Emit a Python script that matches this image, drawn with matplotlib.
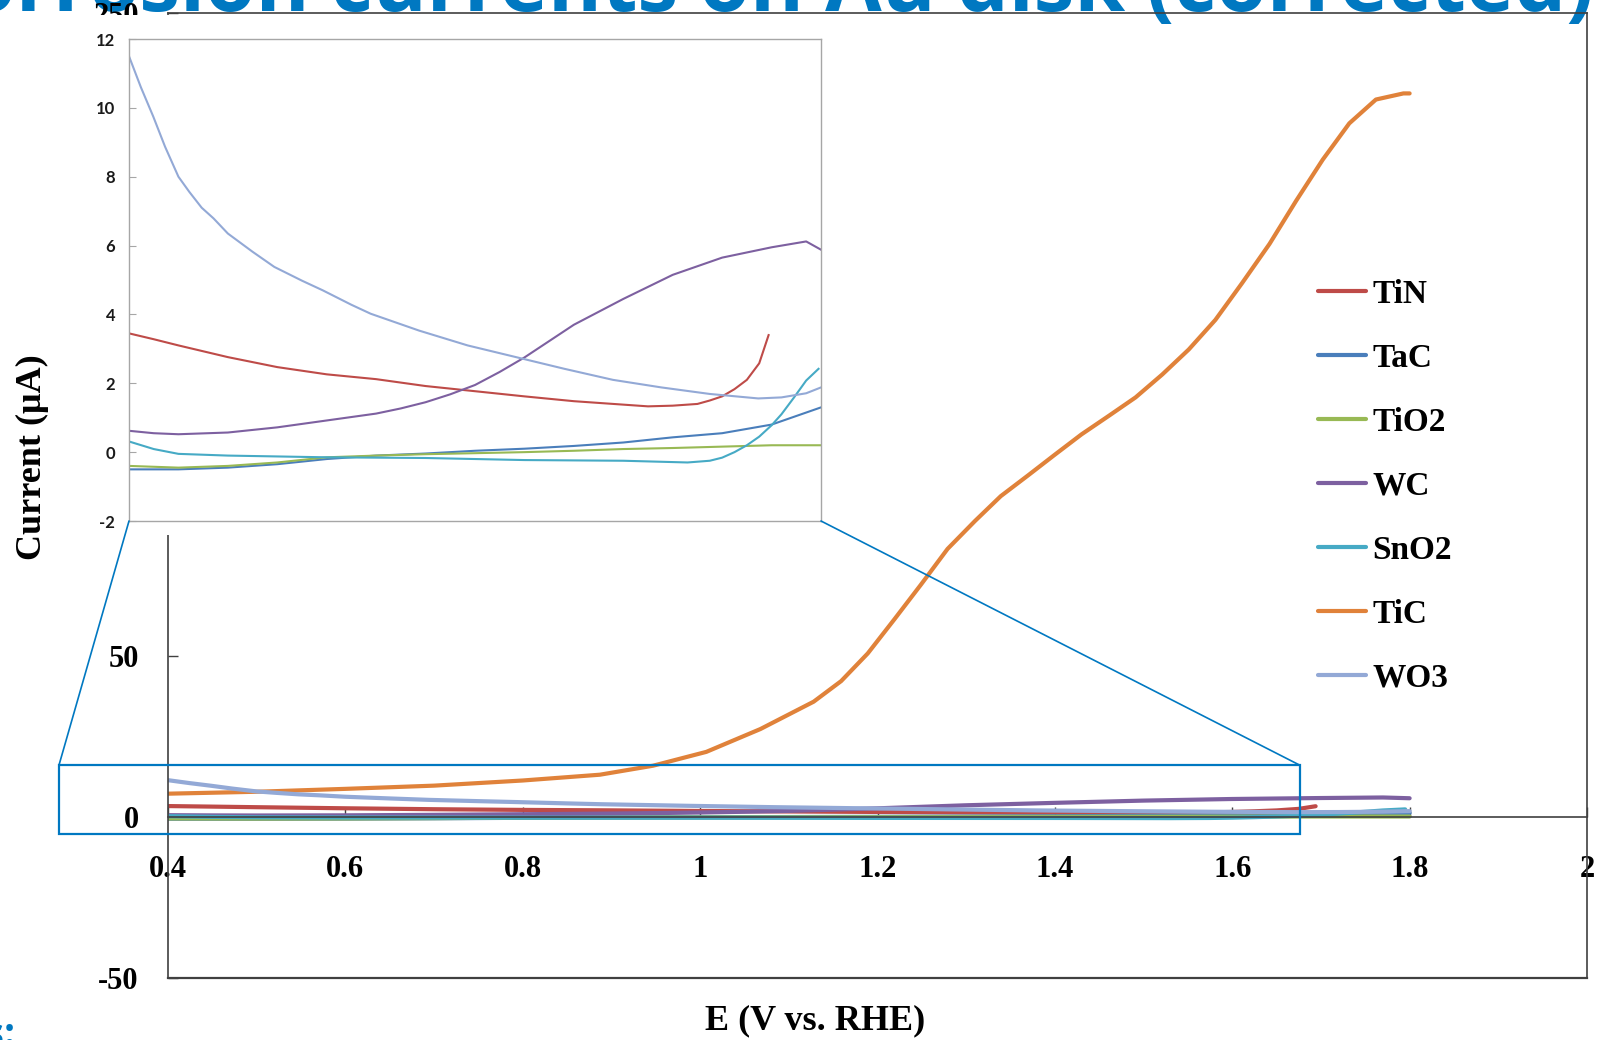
import matplotlib
matplotlib.use("Agg")
import matplotlib.pyplot as plt
from matplotlib.patches import Rectangle, ConnectionPatch

plt.rcParams['axes.unicode_minus'] = False

# series (E in V vs RHE, current in uA)
tin_v = [0.40, 0.45, 0.50, 0.60, 0.70, 0.80, 0.90, 1.00, 1.10, 1.20, 1.30, 1.40, 1.45, 1.50, 1.55, 1.575, 1.60, 1.625, 1.65, 1.675, 1.694]
tin_i = [3.45, 3.28, 3.10, 2.76, 2.47, 2.26, 2.12, 1.92, 1.77, 1.62, 1.48, 1.38, 1.33, 1.35, 1.40, 1.50, 1.62, 1.83, 2.10, 2.58, 3.40]

tac_v = [0.40, 0.50, 0.60, 0.70, 0.80, 0.90, 1.00, 1.10, 1.20, 1.30, 1.40, 1.50, 1.60, 1.70, 1.75, 1.80]
tac_i = [-0.50, -0.50, -0.45, -0.35, -0.20, -0.10, -0.04, 0.04, 0.10, 0.18, 0.28, 0.43, 0.55, 0.80, 1.05, 1.30]

tio2_v = [0.40, 0.50, 0.60, 0.70, 0.80, 0.90, 1.00, 1.10, 1.20, 1.30, 1.40, 1.50, 1.60, 1.70, 1.80]
tio2_i = [-0.40, -0.45, -0.40, -0.30, -0.15, -0.10, -0.06, -0.03, 0.00, 0.04, 0.09, 0.12, 0.16, 0.20, 0.20]

wc_v = [0.40, 0.45, 0.50, 0.60, 0.70, 0.80, 0.90, 0.95, 1.00, 1.05, 1.10, 1.15, 1.20, 1.30, 1.40, 1.50,
        1.60, 1.70, 1.77, 1.80]
wc_i = [0.62, 0.55, 0.52, 0.57, 0.72, 0.92, 1.12, 1.27, 1.45, 1.68, 1.95, 2.33, 2.75, 3.70, 4.45, 5.15,
        5.65, 5.95, 6.12, 5.88]

sno2_v = [0.40, 0.45, 0.50, 0.60, 0.80, 1.00, 1.20, 1.40, 1.53, 1.575, 1.60, 1.625, 1.65, 1.675, 1.70,
          1.72, 1.745, 1.77, 1.795]
sno2_i = [0.31, 0.09, -0.05, -0.10, -0.15, -0.17, -0.23, -0.25, -0.30, -0.25, -0.16, 0.00, 0.20, 0.45, 0.78,
          1.10, 1.58, 2.08, 2.42]

tic_v = [0.40, 0.50, 0.60, 0.70, 0.80, 0.887, 0.947, 1.007, 1.068, 1.128, 1.159, 1.189, 1.219, 1.249, 1.279,
         1.31, 1.339, 1.37, 1.40, 1.43, 1.461, 1.491, 1.521, 1.551, 1.581, 1.611, 1.642, 1.672, 1.702,
         1.732, 1.762, 1.793, 1.80]
tic_i = [7.3, 7.9, 8.8, 9.8, 11.4, 13.2, 16.0, 20.3, 27.4, 35.9, 42.3, 50.9, 61.5, 72.3, 83.4,
         92.1, 99.8, 106.3, 112.7, 119.0, 124.8, 130.5, 137.6, 145.4, 154.6, 166.0, 178.2, 191.6, 204.4,
         215.7, 223.1, 225.0, 225.0]

wo3_v = [0.40, 0.424, 0.449, 0.473, 0.50, 0.522, 0.547, 0.571, 0.60, 0.65, 0.694, 0.75, 0.792, 0.85, 0.889,
         0.987, 1.085, 1.183, 1.281, 1.379, 1.477, 1.575, 1.673, 1.72, 1.77, 1.80]
wo3_i = [11.5, 10.6, 9.75, 8.87, 8.0, 7.56, 7.1, 6.79, 6.35, 5.82, 5.38, 4.98, 4.7, 4.28, 4.02,
         3.53, 3.1, 2.76, 2.42, 2.1, 1.88, 1.69, 1.56, 1.59, 1.71, 1.88]

names = ["TiN", "TaC", "TiO2", "WC", "SnO2", "TiC", "WO3"]
colors = ['#BE4B48', '#4A7EBB', '#98B954', '#7D60A0', '#46AAC5', '#E0823A', '#93A9D6']
series = [(tin_v, tin_i), (tac_v, tac_i), (tio2_v, tio2_i), (wc_v, wc_i),
          (sno2_v, sno2_i), (tic_v, tic_i), (wo3_v, wo3_i)]

x_ticks = [0.4, 0.6, 0.8, 1.0, 1.2, 1.4, 1.6, 1.8, 2.0]
x_labels = ["0.4", "0.6", "0.8", "1", "1.2", "1.4", "1.6", "1.8", "2"]
y_ticks = [-50, 0, 50, 100, 150, 200, 250]
inset_ticks = [-2, 0, 2, 4, 6, 8, 10, 12]

W, H = 1598, 1040
serif = 'Liberation Serif'
blue = '#0078C1'
axis_col = '#404040'

fig = plt.figure(figsize=(W / 100, H / 100), dpi=100)

# main chart
ax = fig.add_axes([168 / W, 1 - 978 / H, (1587 - 168) / W, (978 - 13) / H])
ax.set_zorder(0.6)
ax.set_facecolor('none')
lines = []
for (v, i), name, c in zip(series, names, colors):
    ln, = ax.plot(v, i, color=c, lw=3, label=name, solid_capstyle='round')
    lines.append(ln)

ax.set_xlim(0.4, 2.0)
ax.set_ylim(-50, 250)
ax.set_xticks(x_ticks)
ax.set_xticklabels(x_labels)
ax.set_yticks(y_ticks)
ax.spines['bottom'].set_position(('data', 0))
for s in ax.spines.values():
    s.set_color(axis_col)
    s.set_linewidth(1.2)
ax.axhline(-50, color=axis_col, lw=1.6, clip_on=False)
ax.tick_params(axis='both', direction='in', length=7, width=1, color=axis_col)
ax.tick_params(axis='x', pad=27)
ax.tick_params(axis='y', pad=21)
for t in ax.get_xticklabels() + ax.get_yticklabels():
    t.set_fontfamily(serif)
    t.set_fontweight('bold')
    t.set_fontsize(22)

fig.text(815 / W, 1 - 1021 / H, "E (V vs. RHE)", ha='center', va='center',
         family=serif, fontweight='bold', fontsize=26)
fig.text(32 / W, 1 - 457 / H, "Current (\u03bcA)", ha='center', va='center', rotation=90,
         family=serif, fontweight='bold', fontsize=26)

leg = ax.legend(handles=lines, loc='upper left', bbox_to_anchor=(1318 / W, 1 - 279 / H),
                bbox_transform=fig.transFigure, frameon=False, borderpad=0, borderaxespad=0,
                handlelength=1.45, handletextpad=0.18, labelspacing=0.99,
                prop={'family': serif, 'weight': 'bold', 'size': 24})

# zoom box on the main chart
ax.add_patch(Rectangle((0.277, -5.3), 1.6766 - 0.277, 16.1 + 5.3, fill=False,
                       edgecolor=blue, lw=1.6, clip_on=False, zorder=5))

# white picture behind the inset
fig.add_artist(Rectangle((78 / W, 1 - 535 / H), (830 - 78) / W, (535 - 15) / H,
                         transform=fig.transFigure, facecolor='white', edgecolor='none', zorder=1))

# inset
ins = fig.add_axes([129 / W, 1 - 521 / H, (821 - 129) / W, (521 - 39) / H])
ins.set_zorder(2)
for (v, i), name, c in zip(series, names, colors):
    if name == "TiC":
        continue
    ins.plot(v, i, color=c, lw=1.5)
ins.set_xlim(0.4, 1.8)
ins.set_ylim(-2, 12)
ins.set_xticks([])
ins.set_yticks(inset_ticks)
for s in ins.spines.values():
    s.set_color('#A6A6A6')
    s.set_linewidth(1)
ins.tick_params(axis='y', direction='in', length=5, color='#A6A6A6', pad=10)
for t in ins.get_yticklabels():
    t.set_fontfamily('Lato')
    t.set_fontweight('bold')
    t.set_fontsize(12)
    t.set_color('#1A1A1A')

for xa, xb in [((0, 0), (0.277, 16.1)), ((1, 0), (1.6766, 16.1))]:
    con = ConnectionPatch(xyA=xa, coordsA=ins.transAxes, xyB=xb, coordsB=ax.transData,
                          color=blue, lw=1.2, zorder=3)
    fig.add_artist(con)

# slide text cut off by the screenshot
fig.text(1594 / W, 1 - 11 / H, "Corrosion currents on Au disk (corrected)", ha='right', va='baseline',
         color=blue, fontsize=59, fontweight='bold', family='Open Sans', zorder=0.5)
fig.text(16 / W, 1 - 1046 / H, "Conditions:", ha='right', va='baseline',
         color=blue, fontsize=28, fontweight='bold', family='Open Sans')

fig.savefig("out.png", dpi=100)
